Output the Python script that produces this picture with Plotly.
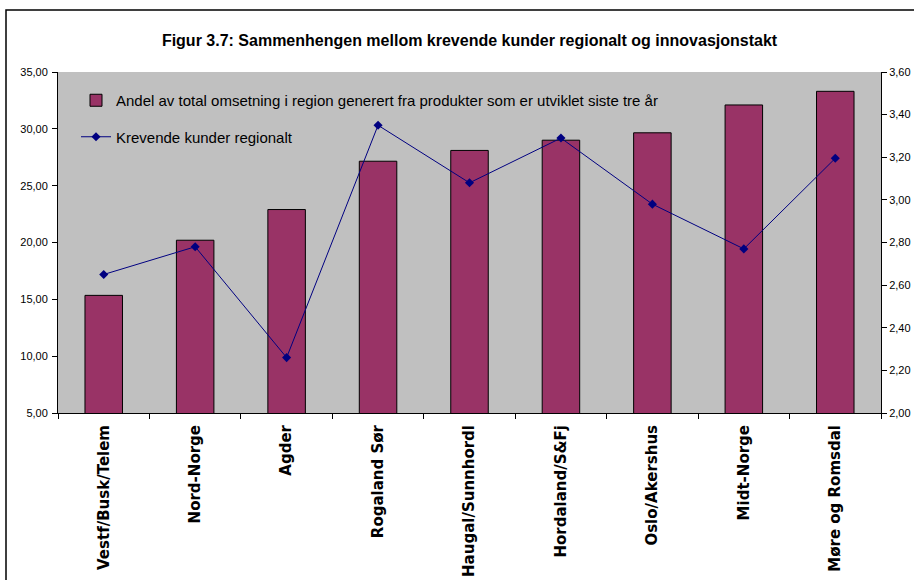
import plotly.graph_objects as go

categories = ["Vestf/Busk/Telem", "Nord-Norge", "Agder", "Rogaland Sør", "Haugal/Sunnhordl",
              "Hordaland/S&Fj", "Oslo/Akershus", "Midt-Norge", "Møre og Romsdal"]
andel_omsetning = [15.35, 20.2, 22.9, 27.15, 28.1, 29.0, 29.65, 32.1, 33.3]
krevende_kunder = [2.65, 2.78, 2.26, 3.35, 3.08, 3.29, 2.98, 2.77, 3.195]

bar_name = "Andel av total omsetning i region generert fra produkter som er utviklet siste tre år"
line_name = "Krevende kunder regionalt"

FONT = "Liberation Sans, Arial, sans-serif"

fig = go.Figure()
fig.add_trace(go.Bar(
    x=categories, y=andel_omsetning, name=bar_name,
    marker=dict(color="#993366", line=dict(color="#000000", width=1)),
    legendgroup="a", yaxis="y",
))
fig.add_trace(go.Scatter(
    x=categories, y=krevende_kunder, name=line_name, mode="lines+markers",
    line=dict(color="#000080", width=1),
    marker=dict(symbol="diamond", size=7, color="#000080"),
    legendgroup="b", yaxis="y2",
))

L, R, T, B = 58, 33, 72, 167
W, H = 914, 580
pw, ph = W - L - R, H - T - B

fig.update_layout(
    width=W, height=H,
    margin=dict(l=L, r=R, t=T, b=B, autoexpand=False),
    paper_bgcolor="white", plot_bgcolor="#C0C0C0",
    separators=", ",
    font=dict(family=FONT, size=11, color="black"),
    title=dict(text="<b>Figur 3.7: Sammenhengen mellom krevende kunder regionalt og innovasjonstakt</b>",
               x=0.5, xref="paper", xanchor="center", y=1 - 40 / H, yanchor="middle",
               font=dict(family=FONT, size=16, color="black")),
    bargap=0.59,
    showlegend=True,
    legend=dict(x=(76 - L) / pw, y=1 - (84 - T) / ph, xanchor="left", yanchor="top",
                bgcolor="rgba(0,0,0,0)", font=dict(family=FONT, size=15, color="black"),
                traceorder="grouped", tracegroupgap=14),
    xaxis=dict(type="category", showline=True, linecolor="black", linewidth=1,
               ticks="outside", tickson="boundaries", ticklen=5, tickcolor="black",
               tickangle=-90, automargin=False, showgrid=False, ticklabelstandoff=5,
               tickfont=dict(family="DejaVu Sans, sans-serif", size=15, color="black",
                             weight="bold")),
    yaxis=dict(range=[5, 35], dtick=5, tick0=5, tickformat=".2f", showline=True,
               linecolor="black", ticks="outside", ticklen=5, tickcolor="black",
               showgrid=False, zeroline=False, automargin=False, ticklabelstandoff=2,
               tickfont=dict(family=FONT, size=11)),
    yaxis2=dict(range=[2.0, 3.6], dtick=0.2, tick0=2.0, tickformat=".2f", overlaying="y",
                side="right", showline=True, linecolor="black", ticks="outside",
                ticklen=5, tickcolor="black", showgrid=False, zeroline=False,
                automargin=False, tickfont=dict(family=FONT, size=11)),
    shapes=[dict(type="rect", xref="paper", yref="paper",
                 x0=(6 - L) / pw, x1=(W + 20 - L) / pw,
                 y0=1 - (H + 20 - T) / ph, y1=1 + (T - 10) / ph,
                 line=dict(color="black", width=1.5), fillcolor="rgba(0,0,0,0)",
                 layer="above")],
)

fig.write_html(
    "out.html",
    config={"displayModeBar": False},
    post_script="document.body.style.margin='0';document.body.style.overflow='hidden';",
)
